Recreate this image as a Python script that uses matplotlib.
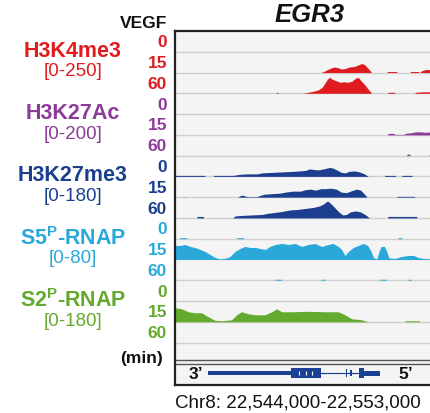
import numpy as np
import matplotlib
matplotlib.use("Agg")
import matplotlib.pyplot as plt

plt.rcParams['font.family'] = ['Liberation Sans', 'DejaVu Sans']
plt.rcParams['mathtext.fontset'] = 'custom'
plt.rcParams['mathtext.rm'] = 'Liberation Sans'
plt.rcParams['mathtext.bf'] = 'Liberation Sans:bold'

# ---------------- data ----------------
gene_title = "EGR3"
cell_label = "VEGF"
time_points = ["0", "15", "60"]
time_unit = "(min)"
region_label = "Chr8: 22,544,000-22,553,000"

track_names = ["H3K4me3", "H3K27Ac", "H3K27me3",
               r"S5$^{\mathbf{P}}$-RNAP", r"S2$^{\mathbf{P}}$-RNAP"]
track_ranges = ["[0-250]", "[0-200]", "[0-180]", "[0-80]", "[0-180]"]
track_colors = ["#e01b1f", "#8c3b98", "#1b3f8e", "#2aa8da", "#63aa2e"]

# signal profiles: position (% of visible window) and height (display units)
h3k4_0_x = [0, 100]
h3k4_0_h = [0, 0]
h3k4_15_x = [57.0, 58.5, 60, 62, 63.5, 65, 66.5, 68, 70, 71.5, 72.9, 74, 75.5, 76.8,
             82.7, 83, 86.5, 86.8, 91.8, 92, 95, 95.3, 95.5, 96.5, 98, 100, 103]
h3k4_15_h = [0, 1.5, 3.5, 5.5, 5, 3.5, 4, 5.5, 6, 7.5, 9, 8, 4, 0,
             0, 1, 1, 0, 0, 1, 1, 0, 0, 2, 3, 3, 2.5]
h3k4_60_x = [39.5, 39.7, 40.1, 40.3, 50, 52, 54, 56, 57.5, 58.5, 59.5, 60.3, 61.5, 63,
             64.5, 66, 67.5, 69, 70.5, 71.5, 72.5, 74, 75.5, 76.8,
             83, 83.3, 85.8, 86, 93.5, 94, 97, 100, 103]
h3k4_60_h = [0, 1, 1, 0, 0, 1, 2, 3.5, 6, 10, 14, 16, 14, 12.5,
             11, 11.5, 11, 12, 15, 16, 13, 9, 4, 0,
             0, 1, 1, 0, 0, 1, 1.5, 1.5, 1.5]

h3k27ac_0_x = [0, 100]
h3k27ac_0_h = [0, 0]
h3k27ac_15_x = [83, 83.3, 85.5, 85.8, 89.5, 90, 92, 94, 96, 98, 100, 103]
h3k27ac_15_h = [0, 1.5, 1.5, 0.5, 0.5, 1.5, 2, 3, 3, 2.5, 3, 3]
h3k27ac_60_x = [90.5, 90.7, 91.7, 91.9, 99.2, 99.4, 100.5, 100.7]
h3k27ac_60_h = [0, 1.5, 1.5, 0, 0, 1.5, 1.5, 0]

h3k27me3_0_x = [0, 11.7, 11.8, 15, 15.1, 22.5, 24, 25, 28, 32, 34, 38, 42, 46, 49, 51,
                52.5, 54, 56, 58, 60.5, 62, 63.5, 65, 66.5, 68, 70, 72, 74, 75.5,
                81.8, 82, 86, 86.2, 88.5, 88.7, 92.5, 92.7]
h3k27me3_0_h = [1, 1, 0, 0, 1, 1, 1.5, 2, 2.5, 2.5, 3.5, 4, 4.5, 5, 5.5, 6,
                7.5, 7, 6.5, 7.5, 9, 8, 6, 4, 3.5, 5, 5.5, 4.5, 2.5, 0,
                0, 1, 1, 0, 0, 1, 1, 0]
h3k27me3_15_x = [3.8, 4, 4.3, 24.5, 25.5, 26.5, 27.5, 28.5, 32, 33, 35, 38, 41, 43, 46,
                 49, 51, 53, 55, 57, 59, 61, 63, 65, 67, 69, 71, 72.5, 74, 75,
                 86.5, 86.7, 93.5, 93.7]
h3k27me3_15_h = [0, 0.7, 0, 0, 1.5, 2, 1, 0.5, 0.5, 1.5, 3, 3.5, 4, 5, 6,
                 6, 7.5, 8, 7, 8.5, 8.5, 9, 8, 5, 4.5, 6.5, 8, 7, 3, 0,
                 0, 0.8, 0.8, 0]
h3k27me3_60_x = [8.5, 8.7, 11, 11.2, 22.5, 23.5, 26, 30, 34, 36, 39, 42, 45, 48, 51,
                 54, 56.5, 58, 59.6, 61, 62.5, 64, 65.5, 67, 68.5, 70.5, 72.5, 74.5, 76,
                 83, 83.2, 94.3, 94.5]
h3k27me3_60_h = [0, 1.5, 1.5, 0, 0, 2, 2.5, 3, 3.5, 4.5, 5.5, 6.5, 8, 8.5, 9.5,
                 10.5, 12, 14, 17, 14, 10, 6, 3, 3.5, 6, 7, 6, 3, 0,
                 0, 1.5, 1.5, 0]

s5p_0_x = [1.8, 2, 4.5, 4.7, 24, 24.2, 26.8, 27, 87, 87.2, 88.5, 88.7]
s5p_0_h = [0, 1, 1, 0, 0, 1, 1, 0, 0, 1, 1, 0]
s5p_15_x = [0, 2, 3.9, 5.9, 7.8, 9.8, 11.7, 13.7, 15.6, 17.6, 19.5, 21.5, 23.4, 25.4,
            27.3, 29.3, 31.3, 33.2, 35.2, 37.1, 39.1, 41.7, 44.3, 46.9, 49.5, 52.1,
            54.7, 57.3, 59.9, 61.8, 63.8, 65.1, 66.4, 67.7, 69.7, 71.6, 73.6, 75.3,
            76.6, 77.5, 78.8, 79.7, 80.5, 81.8, 82.7, 83.6, 85.9, 88.5, 91.1, 93.1,
            95.1, 97, 100, 103]
s5p_15_h = [14, 14, 15, 13, 12, 10, 8, 5, 2, 0.5, 1, 3, 8, 11,
            13, 12, 12, 11, 10, 13, 15, 16, 15, 16, 13, 15,
            16, 13, 15, 16, 13, 10, 4, 8, 12, 14, 16, 14,
            8, 2, 0.3, 8, 13, 13, 8, 1.5, 1, 3, 4, 4,
            2, 1, 0.5, 0.5]
s5p_60_x = [39, 39.2, 41.4, 41.6, 57, 57.2, 58.4, 58.6, 80, 80.2, 82.5, 82.7,
            91, 91.2, 92.2, 92.4]
s5p_60_h = [0, 1, 1, 0, 0, 1, 1, 0, 0, 1, 1, 0, 0, 1, 1, 0]

s2p_0_x = [0, 100]
s2p_0_h = [0, 0]
s2p_15_x = [0, 2.6, 5.2, 7.8, 10.4, 13, 15.6, 18.2, 22.1, 24.1, 26, 28.6, 31.3, 35.2,
            37.8, 39.7, 41.7, 45.6, 52.1, 58.6, 63.8, 66.4, 69, 72.9, 74.9, 75.5,
            89.8, 90, 95.5, 95.7]
s2p_15_h = [14, 13, 10, 9, 9, 5, 1.5, 1, 2, 7, 10, 8, 7, 7,
            10, 13, 10, 10, 10.5, 10, 10, 7, 3, 2, 0.5, 0,
            0, 1, 1, 0]
s2p_60_x = [0, 100]
s2p_60_h = [0, 0]

profiles = [
    [(h3k4_0_x, h3k4_0_h), (h3k4_15_x, h3k4_15_h), (h3k4_60_x, h3k4_60_h)],
    [(h3k27ac_0_x, h3k27ac_0_h), (h3k27ac_15_x, h3k27ac_15_h), (h3k27ac_60_x, h3k27ac_60_h)],
    [(h3k27me3_0_x, h3k27me3_0_h), (h3k27me3_15_x, h3k27me3_15_h), (h3k27me3_60_x, h3k27me3_60_h)],
    [(s5p_0_x, s5p_0_h), (s5p_15_x, s5p_15_h), (s5p_60_x, s5p_60_h)],
    [(s2p_0_x, s2p_0_h), (s2p_15_x, s2p_15_h), (s2p_60_x, s2p_60_h)],
]

# gene model (positions in % of window, heights in display units)
gene_block_start = [13.0, 45.5, 66.7, 68.4, 72.0, 74.0]
gene_block_end = [45.5, 57.0, 67.3, 69.0, 74.0, 80.0]
gene_block_height = [4.5, 10, 8, 6, 10, 5]
intron_start, intron_end = 57.0, 72.0
intron_arrows = [59.0, 61.5, 64.0, 70.3]
exon_arrows = [48.5, 51.0, 53.5]
gene_color = "#1b3f93"

# ---------------- layout ----------------
W, H = 431, 414
fig = plt.figure(figsize=(W / 100, H / 100), dpi=100)
fig.patch.set_facecolor("white")

def fx(x):
    return x / W

def fy(y):
    return 1 - y / H

p_left, p_right, p_top, p_bot = 175, 445, 32, 386
ax = fig.add_axes([fx(p_left), fy(p_bot), (p_right - p_left) / W, (p_bot - p_top) / H])
ax.set_facecolor("#f4f4f4")
ax.set_xlim(0, 100 * (p_right - p_left) / 256)
ax.set_ylim(p_bot, p_top)
ax.set_xticks([])
ax.set_yticks([])
for s in ["left", "top", "bottom"]:
    ax.spines[s].set_linewidth(1.6)
    ax.spines[s].set_color("#222222")
ax.spines["right"].set_visible(False)

row_h = 20.77
n_rows = 15
baselines = [p_top + row_h * (i + 1) for i in range(n_rows)]
for b in baselines:
    ax.axhline(b, color="#cfcfcf", lw=1.0, zorder=1)
min_row_bottom = 361
ax.axhline(min_row_bottom, color="#555555", lw=1.0, zorder=1)
ax.axhline(365, color="#555555", lw=1.0, zorder=1)

# signals
for t, rows in enumerate(profiles):
    for r, (xs, hs) in enumerate(rows):
        base = baselines[t * 3 + r]
        xs = np.asarray(xs, float)
        hs = np.asarray(hs, float)
        ax.fill_between(xs, base, base - hs, color=track_colors[t], lw=0, zorder=2)

# gene model
gc = 374
for s, e, h in zip(gene_block_start, gene_block_end, gene_block_height):
    ax.fill_between([s, e], gc - h / 2, gc + h / 2, color=gene_color, lw=0, zorder=3)
ax.plot([intron_start, intron_end], [gc, gc], color=gene_color, lw=0.8, zorder=3)
ax.plot(intron_arrows, [gc] * len(intron_arrows), ls="none", marker=0, ms=3,
        color=gene_color, mew=0.8, zorder=3)
ax.plot(exon_arrows, [gc] * len(exon_arrows), ls="none", marker="|", ms=3,
        color="white", mew=0.8, zorder=4)
ax.text(8.2, gc + 1, "3\u2019", ha="center", va="center", fontsize=12.5,
        fontweight="bold", color="#111111")
ax.text(90.0, gc + 1, "5\u2019", ha="center", va="center", fontsize=12.5,
        fontweight="bold", color="#111111")

# titles / labels
fig.text(fx(310), fy(15), gene_title, ha="center", va="center", fontsize=18.5,
         fontweight="bold", fontstyle="italic", color="#111111")
fig.text(fx(167), fy(23), cell_label, ha="right", va="center", fontsize=12.5,
         fontweight="bold", color="#111111")
fig.text(fx(163), fy(359), time_unit, ha="right", va="center", fontsize=12.5,
         fontweight="bold", color="#111111")
fig.text(fx(298), fy(403), region_label, ha="center", va="center", fontsize=13.5,
         color="#111111")

for t in range(5):
    c = track_colors[t]
    for r in range(3):
        yc = baselines[t * 3 + r] - row_h / 2 + 0.5
        fig.text(fx(167), fy(yc), time_points[r], ha="right", va="center",
                 fontsize=12.5, fontweight="bold", color=c)
    y_name = baselines[t * 3] - 1.5
    fig.text(fx(73), fy(y_name), track_names[t], ha="center", va="center",
             fontsize=15.5, fontweight="bold", color=c)
    fig.text(fx(73), fy(y_name + 20.5), track_ranges[t], ha="center", va="center",
             fontsize=13.5, color=c)

fig.savefig("out.png", dpi=100)
